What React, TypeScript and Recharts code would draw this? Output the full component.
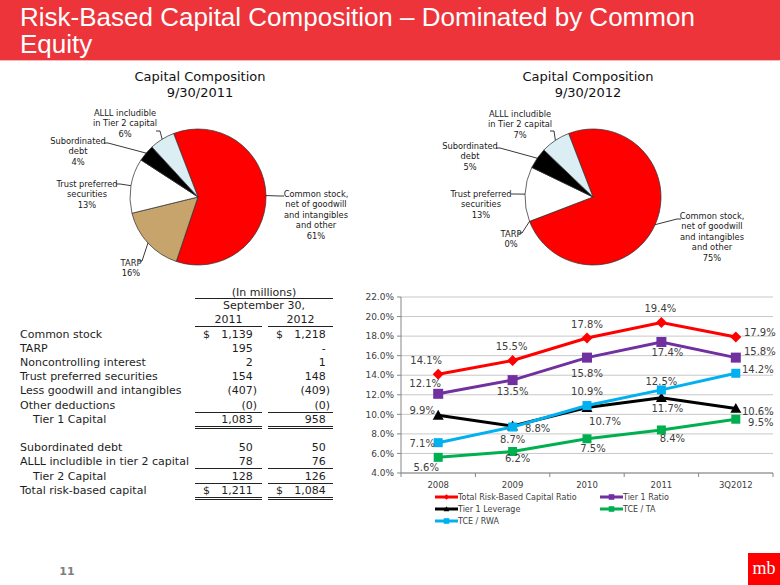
import React from 'react';
import { PieChart, Pie, Cell, LineChart, Line, XAxis, YAxis, CartesianGrid, Legend, LabelList } from 'recharts';

// pie data (percent of total risk-based capital)
const PIE_NAMES = [
  'Common stock,\nnet of goodwill\nand intangibles\nand other',
  'TARP',
  'Trust preferred\nsecurities',
  'Subordinated\ndebt',
  'ALLL includible\nin Tier 2 capital',
];
const SHARE_2011 = [61, 16, 13, 4, 6];
const SHARE_2012 = [75, 0, 13, 5, 7];
const PIE_COLORS = ['#FF0000', '#C6A46C', '#FFFFFF', '#000000', '#DBEEF3'];

// line chart data
const YEARS = ['2008', '2009', '2010', '2011', '3Q2012'];
const TOTAL_RBC = [14.1, 15.5, 17.8, 19.4, 17.9];
const TIER1_RATIO = [12.1, 13.5, 15.8, 17.4, 15.8];
const TIER1_LEVERAGE = [9.9, 8.8, 10.7, 11.7, 10.6];
const TCE_TA = [5.6, 6.2, 7.5, 8.4, 9.5];
const TCE_RWA = [7.1, 8.7, 10.9, 12.5, 14.2];
const Y_TICKS = [4, 6, 8, 10, 12, 14, 16, 18, 20, 22];

// table
const ROW_LABELS = [
  'Common stock', 'TARP', 'Noncontrolling interest', 'Trust preferred securities',
  'Less goodwill and intangibles', 'Other deductions', 'Tier 1 Capital', '',
  'Subordinated debt', 'ALLL includible in tier 2 capital', 'Tier 2 Capital', 'Total risk-based capital',
];
const VALUES_2011 = ['1,139', '195', '2', '154', '(407)', '(0)', '1,083', '', '50', '78', '128', '1,211'];
const VALUES_2012 = ['1,218', '-', '1', '148', '(409)', '(0)', '958', '', '50', '76', '126', '1,084'];

// row styling (kept apart from the values)
const ROW_INDENT = [0, 0, 0, 0, 0, 0, 1, 0, 0, 0, 1, 0];
const ROW_DOLLAR = [1, 0, 0, 0, 0, 0, 0, 0, 0, 0, 0, 1];
const ROW_RULE = ['', '', '', '', '', 'single', 'double', '', '', 'single', 'single', 'double'];

const LABELS_2011 = [
  { dx: 118, dy: -3, lx: 82, ly: -1 },
  { dx: -67, dy: 66, lx: -56, ly: 64 },
  { dx: -111, dy: -13, lx: -78, ly: -13 },
  { dx: -120, dy: -56, lx: -90, ly: -54 },
  { dx: -73, dy: -84, lx: -38, ly: -66 },
];
const LABELS_2012 = [
  { dx: 119, dy: 19, lx: 84, ly: 22 },
  { dx: -82, dy: 37, lx: -71, ly: 36 },
  { dx: -112, dy: -3, lx: -78, ly: -3 },
  { dx: -123, dy: -51, lx: -93, ly: -49 },
  { dx: -73, dy: -83, lx: -39, ly: -66 },
];

const SERIES = [
  { key: 'total', name: 'Total Risk-Based Capital Ratio', color: '#FF0000', values: TOTAL_RBC, shape: 'diamond', size: 5.5,
    offsets: [[-12, -14], [-1, -14], [0, -14], [-1, -14], [24, -5]] },
  { key: 'tier1', name: 'Tier 1 Ratio', color: '#7030A0', values: TIER1_RATIO, shape: 'square', size: 5,
    offsets: [[-13, -10], [0, 11], [0, 16], [6, 11], [24, -6]] },
  { key: 'leverage', name: 'Tier 1 Leverage', color: '#000000', values: TIER1_LEVERAGE, shape: 'triangle', size: 5.5,
    offsets: [[-16, -5], [25, 2], [18, 14], [6, 11], [22, 3]] },
  { key: 'tceTa', name: 'TCE / TA', color: '#00B050', values: TCE_TA, shape: 'square', size: 4.5,
    offsets: [[-12, 10], [5, 7], [6, 10], [11, 9], [25, 3]] },
  { key: 'tceRwa', name: 'TCE / RWA', color: '#00B0F0', values: TCE_RWA, shape: 'square', size: 4.5,
    offsets: [[-16, 1], [0, 12], [0, -14], [0, -8], [22, -4]] },
];

const lineData = YEARS.map((year, i) => {
  const row: any = { year };
  SERIES.forEach((s) => { row[s.key] = s.values[i]; });
  return row;
});

const Marker = ({ cx, cy, shape, color, size }: any) => {
  if (cx == null || cy == null) return null;
  const s = size;
  if (shape === 'diamond') {
    return <polygon points={`${cx},${cy - s} ${cx + s},${cy} ${cx},${cy + s} ${cx - s},${cy}`} fill={color} />;
  }
  if (shape === 'triangle') {
    return <polygon points={`${cx},${cy - s} ${cx + s},${cy + s * 0.8} ${cx - s},${cy + s * 0.8}`} fill={color} />;
  }
  return <rect x={cx - s} y={cy - s} width={s * 2} height={s * 2} fill={color} />;
};

const pieLabel = (layout: any[], shares: number[]) => (props: any) => {
  const { cx, cy, midAngle, outerRadius, index } = props;
  const L = layout[index];
  const rad = Math.PI / 180;
  const ex = cx + outerRadius * Math.cos(-midAngle * rad);
  const ey = cy + outerRadius * Math.sin(-midAngle * rad);
  const side = L.dx > 0 ? 1 : -1;
  const lines = [...PIE_NAMES[index].split('\n'), `${shares[index]}%`];
  return (
    <g key={`lbl-${index}`}>
      <polyline
        points={`${ex},${ey} ${cx + L.lx},${cy + L.ly} ${cx + L.lx + side * 4},${cy + L.ly}`}
        fill="none" stroke="#222" strokeWidth={0.9}
      />
      <text x={cx + L.dx} y={cy + L.dy} textAnchor="middle" dominantBaseline="central" fontSize={8.3} fill="#1A1A1A">
        {lines.map((t, i) => (
          <tspan key={i} x={cx + L.dx} dy={i === 0 ? 0 : 10.4}>{t}</tspan>
        ))}
      </text>
    </g>
  );
};

const CompositionPie = ({ title, date, shares, layout, left, titleShift }: any) => {
  const data = PIE_NAMES.map((name, i) => ({ name, value: shares[i] }));
  return (
    <div style={{ position: 'absolute', left, top: 69, width: 340, height: 230 }}>
      <div style={{ position: 'relative', left: titleShift, textAlign: 'center', fontSize: 13, lineHeight: '16px', color: '#111' }}>
        <div>{title}</div>
        <div>{date}</div>
      </div>
      <div style={{ position: 'absolute', left: 0, top: 23 }}>
        <PieChart width={340} height={200}>
          <Pie
            data={data}
            dataKey="value"
            nameKey="name"
            cx={170}
            cy={100}
            outerRadius={68}
            startAngle={111}
            endAngle={-249}
            stroke="#333"
            strokeWidth={0.75}
            label={pieLabel(layout, shares)}
            labelLine={false}
            isAnimationActive={false}
          >
            {data.map((_, i) => (
              <Cell key={`cell-${i}`} fill={PIE_COLORS[i]} />
            ))}
          </Pie>
        </PieChart>
      </div>
    </div>
  );
};

const XTick = (props: any) => {
  const { x, y, payload, index, visibleTicksCount } = props;
  const half = 37.2;
  return (
    <g>
      <line x1={x - half} x2={x - half} y1={y} y2={y + 4} stroke="#868686" />
      {index === visibleTicksCount - 1 && <line x1={x + half} x2={x + half} y1={y} y2={y + 4} stroke="#868686" />}
      <text x={x} y={y + 12} textAnchor="middle" dominantBaseline="central" fontSize={8.5} fill="#404040">
        {payload.value}
      </text>
    </g>
  );
};

const renderLegend = () => (
  <div style={{ paddingLeft: 95, display: 'grid', gridTemplateColumns: '165px 160px', gridAutoRows: '12px' }}>
    {SERIES.map((s) => (
      <div key={s.key} style={{ display: 'flex', alignItems: 'center', height: 12 }}>
        <svg width={23} height={10}>
          <line x1={0} x2={23} y1={5} y2={5} stroke={s.color} strokeWidth={3} />
          <Marker cx={11.5} cy={5} shape={s.shape} color={s.color} size={2.8} />
        </svg>
        <span style={{ fontSize: 8, color: '#404040', marginLeft: 0, whiteSpace: 'nowrap' }}>{s.name}</span>
      </div>
    ))}
  </div>
);

const RatioChart = () => (
  <div style={{ position: 'absolute', left: 340, top: 285 }}>
    <LineChart width={440} height={250} data={lineData} margin={{ top: 12, right: 7, bottom: 0, left: 0 }}>
      <CartesianGrid vertical={false} stroke="#C8C8C8" />
      <XAxis
        dataKey="year"
        padding={{ left: 37.2, right: 37.2 }}
        height={18}
        tickSize={0}
        tickMargin={0}
        tickLine={false}
        axisLine={{ stroke: '#868686' }}
        tick={<XTick />}
        interval={0}
      />
      <YAxis
        width={61}
        domain={[4, 22]}
        ticks={Y_TICKS}
        interval={0}
        tickFormatter={(v: number) => `${v.toFixed(1)}%`}
        tickSize={4}
        tickMargin={3}
        axisLine={{ stroke: '#868686' }}
        tickLine={{ stroke: '#868686' }}
        tick={{ fontSize: 9, fill: '#404040' }}
      />
      <YAxis yAxisId="frame" orientation="right" width={0} domain={[4, 22]} tick={false} tickLine={false} axisLine={{ stroke: '#868686' }} />
      <Legend verticalAlign="bottom" height={44} content={renderLegend} />
      {SERIES.map((s) => (
        <Line
          key={s.key}
          type="linear"
          dataKey={s.key}
          name={s.name}
          stroke={s.color}
          strokeWidth={3}
          dot={(p: any) => <Marker key={`${s.key}-${p.index}`} cx={p.cx} cy={p.cy} shape={s.shape} color={s.color} size={s.size} />}
          activeDot={false}
          isAnimationActive={false}
        >
          <LabelList
            dataKey={s.key}
            content={(p: any) => {
              const off = s.offsets[p.index] || [0, -12];
              return (
                <text x={p.x + off[0]} y={p.y + off[1]} textAnchor="middle" dominantBaseline="central" fontSize={10} fill="#404040">
                  {`${Number(p.value).toFixed(1)}%`}
                </text>
              );
            }}
          />
        </Line>
      ))}
    </LineChart>
  </div>
);

const ROW_TOP = 327.5;
const ROW_STEP = 14.2;
const ruleStyle = (rule: string) =>
  rule === 'single' ? { borderBottom: '1px solid #222' } : rule === 'double' ? { borderBottom: '3px double #222' } : {};

const ValueCell = ({ left, width, value, dollar, rule, pad }: any) => (
  <div style={{ position: 'absolute', left, top: 0, width, height: 13, textAlign: 'right', ...ruleStyle(rule) }}>
    {dollar ? <span style={{ position: 'absolute', left: 8, top: 0 }}>$</span> : null}
    <span style={{ paddingRight: pad }}>
      {value}
      {value && !value.startsWith('(') ? <span style={{ visibility: 'hidden' }}>)</span> : null}
    </span>
  </div>
);

const CapitalTable = () => (
  <div style={{ position: 'absolute', left: 0, top: 0, fontSize: 11, lineHeight: '13px', color: '#1E1E1E' }}>
    <div style={{ position: 'absolute', left: 195, top: 286, width: 138, height: 12, textAlign: 'center', borderBottom: '1px solid #222' }}>
      (In millions)
    </div>
    <div style={{ position: 'absolute', left: 195, top: 299, width: 138, textAlign: 'center' }}>September 30,</div>
    <div style={{ position: 'absolute', left: 195, top: 313, width: 67, height: 13, textAlign: 'center', borderBottom: '1px solid #222' }}>2011</div>
    <div style={{ position: 'absolute', left: 268, top: 313, width: 65, height: 13, textAlign: 'center', borderBottom: '1px solid #222' }}>2012</div>
    {ROW_LABELS.map((label, i) => (
      <div key={i} style={{ position: 'absolute', left: 0, top: ROW_TOP + i * ROW_STEP, width: 340, height: 13 }}>
        <div style={{ position: 'absolute', left: ROW_INDENT[i] ? 33 : 20, top: 0, whiteSpace: 'nowrap' }}>{label}</div>
        <ValueCell left={195} width={67} value={VALUES_2011[i]} dollar={ROW_DOLLAR[i]} rule={ROW_RULE[i]} pad={5} />
        <ValueCell left={268} width={65} value={VALUES_2012[i]} dollar={ROW_DOLLAR[i]} rule={ROW_RULE[i]} pad={3} />
      </div>
    ))}
  </div>
);

export default function App() {
  return (
    <div
      style={{
        position: 'absolute', left: 0, top: 0, width: 780, height: 585, overflow: 'hidden',
        background: '#FFFFFF', fontFamily: '"DejaVu Sans", Verdana, sans-serif',
      }}
    >
      <div
        style={{
          position: 'absolute', left: 0, top: 0, width: 780, height: 61, background: '#ED343A',
          borderBottom: '1px solid #F6B8BA', color: '#FFFFFF', fontFamily: '"Liberation Sans", Arial, sans-serif',
          fontSize: 26, lineHeight: '27px', padding: '4px 0 0 20px', boxSizing: 'border-box',
        }}
      >
        Risk-Based Capital Composition – Dominated by Common
        <br />
        Equity
      </div>

      <CompositionPie title="Capital Composition" date="9/30/2011" shares={SHARE_2011} layout={LABELS_2011} left={23} titleShift={7} />
      <CompositionPie title="Capital Composition" date="9/30/2012" shares={SHARE_2012} layout={LABELS_2012} left={418} titleShift={0} />

      <CapitalTable />
      <RatioChart />

      <div style={{ position: 'absolute', left: 47, top: 565, width: 40, textAlign: 'center', fontSize: 11, fontWeight: 'bold', color: '#7F7F7F' }}>
        11
      </div>
      <div
        style={{
          position: 'absolute', left: 748, top: 553, width: 32, height: 32, background: '#FF0000', color: '#FFFFFF',
          fontFamily: '"Liberation Serif", "DejaVu Serif", serif', fontSize: 18, lineHeight: '30px', textAlign: 'center',
        }}
      >
        mb
      </div>
    </div>
  );
}
